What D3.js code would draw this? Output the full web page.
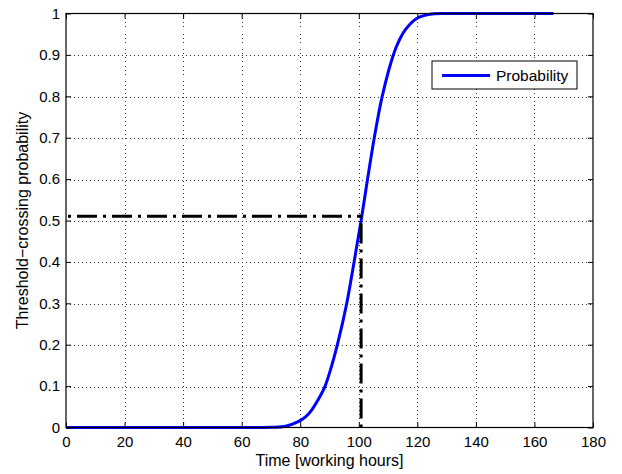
<!DOCTYPE html>
<html>
<head>
<meta charset="utf-8">
<script src="https://cdn.jsdelivr.net/npm/d3@7"></script>
<style>
  html, body { margin: 0; padding: 0; background: #fff; }
  svg { display: block; font-family: "Liberation Sans", Arial, Helvetica, sans-serif; }
</style>
</head>
<body>
<div id="chart"></div>
<script>
'use strict'

// values
const timeHours = [0, 20, 40, 60, 70, 75, 79.3, 82, 83.9, 86.2, 88.5, 90.7, 92.7, 95.9, 98.4, 100.8, 103, 105.3, 108, 111.8, 113.8, 115.8, 119.8, 124.3, 130, 140, 166.5]
const probability = [0, 0, 0, 0, 0.0005, 0.003, 0.014, 0.027, 0.042, 0.068, 0.1, 0.148, 0.2, 0.3, 0.4, 0.5, 0.6, 0.7, 0.8, 0.9, 0.935, 0.96, 0.988, 0.998, 1, 1, 1]
const thresholdTime = [100.8]
const thresholdProb = [0.51]
const xTicks = [0, 20, 40, 60, 80, 100, 120, 140, 160, 180]
const yTicks = [0, 0.1, 0.2, 0.3, 0.4, 0.5, 0.6, 0.7, 0.8, 0.9, 1]
const legendLabels = ['Probability']

const width = 622
const height = 474
const margin = {top: 13.5, right: 29, bottom: 46.5, left: 66}
const innerW = width - margin.left - margin.right
const innerH = height - margin.top - margin.bottom
const tickLen = 5

const svg = d3.select('#chart')
  .append('svg')
    .attr('width', width)
    .attr('height', height)

const g = svg.append('g')
  .attr('transform', `translate(${margin.left},${margin.top})`)

const xScale = d3.scaleLinear()
  .domain([0, 180])
  .range([0, innerW])

const yScale = d3.scaleLinear()
  .domain([0, 1])
  .range([innerH, 0])

// dotted grid
const grid = g.append('g').attr('class', 'grid')
grid.selectAll('line.gx')
  .data(xTicks.slice(1, -1))
  .join('line')
    .attr('x1', d => Math.round(xScale(d)) + 0.5)
    .attr('x2', d => Math.round(xScale(d)) + 0.5)
    .attr('y1', 0)
    .attr('y2', innerH)
grid.selectAll('line.gy')
  .data(yTicks.slice(1, -1))
  .join('line')
    .attr('class', 'gy')
    .attr('x1', 0)
    .attr('x2', innerW)
    .attr('y1', d => Math.round(yScale(d)) + 0.5)
    .attr('y2', d => Math.round(yScale(d)) + 0.5)
grid.selectAll('line')
  .attr('stroke', '#333')
  .attr('stroke-width', 1)
  .attr('stroke-dasharray', '1,3')
  .attr('shape-rendering', 'crispEdges')

// probability curve
const points = timeHours.map((t, i) => [t, probability[i]])
const line = d3.line()
  .x(d => xScale(d[0]))
  .y(d => yScale(d[1]))
  .curve(d3.curveCatmullRom.alpha(0.5))

g.append('path')
  .datum(points)
  .attr('d', line)
  .attr('fill', 'none')
  .attr('stroke', '#0000ff')
  .attr('stroke-width', 3)
  .attr('stroke-linejoin', 'round')

// dash-dot threshold lines
const dashDot = '20,6,3,6'
g.append('path')
  .datum([[0, thresholdProb[0]], [thresholdTime[0], thresholdProb[0]]])
  .attr('d', d3.line().x(d => xScale(d[0])).y(d => yScale(d[1])))
  .attr('fill', 'none')
  .attr('stroke', '#000')
  .attr('stroke-width', 3)
  .attr('stroke-dasharray', dashDot)
  .attr('stroke-dashoffset', 24)

g.append('path')
  .datum([[thresholdTime[0], 0], [thresholdTime[0], thresholdProb[0]]])
  .attr('d', d3.line().x(d => xScale(d[0])).y(d => yScale(d[1])))
  .attr('fill', 'none')
  .attr('stroke', '#000')
  .attr('stroke-width', 3)
  .attr('stroke-dasharray', dashDot)
  .attr('stroke-dashoffset', 26)

// axes, ticks inward, box on
const styleAxis = (axis, g) => {
  g.call(axis)
  g.selectAll('.domain').remove()
  g.selectAll('line').attr('stroke', '#000').attr('stroke-width', 1)
  g.selectAll('text')
    .attr('fill', '#000')
    .attr('font-size', 15)
    .attr('font-family', '"Liberation Sans", Arial, Helvetica, sans-serif')
}

const xAxis = d3.axisBottom(xScale)
  .tickValues(xTicks)
  .tickFormat(d3.format('d'))
  .tickSizeInner(-tickLen)
  .tickSizeOuter(0)
  .tickPadding(9)

g.append('g')
  .attr('transform', `translate(0,${innerH})`)
  .call(styleAxis.bind(null, xAxis))

const xAxisTop = d3.axisTop(xScale)
  .tickValues(xTicks)
  .tickFormat('')
  .tickSizeInner(-tickLen)
  .tickSizeOuter(0)

g.append('g')
  .call(styleAxis.bind(null, xAxisTop))

const yAxis = d3.axisLeft(yScale)
  .tickValues(yTicks)
  .tickFormat(d3.format('~g'))
  .tickSizeInner(-tickLen)
  .tickSizeOuter(0)
  .tickPadding(6)

g.append('g')
  .call(styleAxis.bind(null, yAxis))

const yAxisRight = d3.axisRight(yScale)
  .tickValues(yTicks)
  .tickFormat('')
  .tickSizeInner(-tickLen)
  .tickSizeOuter(0)

g.append('g')
  .attr('transform', `translate(${innerW},0)`)
  .call(styleAxis.bind(null, yAxisRight))

g.append('rect')
  .attr('x', 0)
  .attr('y', 0)
  .attr('width', innerW)
  .attr('height', innerH)
  .attr('fill', 'none')
  .attr('stroke', '#000')
  .attr('stroke-width', 1.2)

// axis titles
svg.append('text')
  .attr('x', margin.left + innerW / 2)
  .attr('y', 466)
  .attr('text-anchor', 'middle')
  .attr('font-size', 16)
  .text('Time [working hours]')

svg.append('text')
  .attr('transform', `translate(28,${margin.top + innerH / 2}) rotate(-90)`)
  .attr('text-anchor', 'middle')
  .attr('font-size', 16)
  .text('Threshold\u2212crossing probability')

// legend
const legend = g.append('g')
  .attr('transform', `translate(${innerW - 161},47.5)`)

legend.append('rect')
  .attr('width', 145)
  .attr('height', 28)
  .attr('fill', '#fff')
  .attr('stroke', '#000')
  .attr('stroke-width', 1)

legend.selectAll('line')
  .data(legendLabels)
  .join('line')
    .attr('x1', 10)
    .attr('x2', 58)
    .attr('y1', 14.5)
    .attr('y2', 14.5)
    .attr('stroke', '#0000ff')
    .attr('stroke-width', 3)

legend.selectAll('text')
  .data(legendLabels)
  .join('text')
    .attr('x', 64)
    .attr('y', 20)
    .attr('font-size', 15.5)
    .text(d => d)
</script>
</body>
</html>
